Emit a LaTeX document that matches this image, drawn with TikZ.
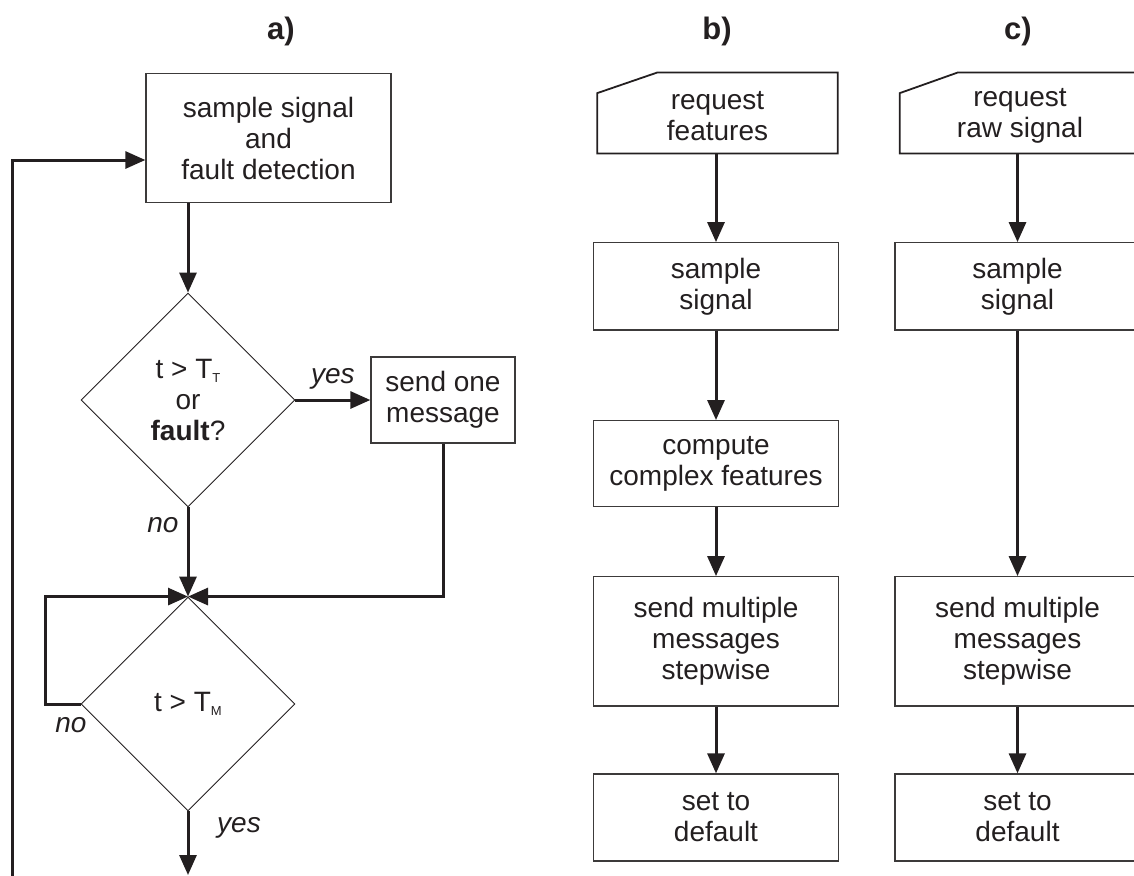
\documentclass[tikz,border=0pt]{standalone}
\usepackage{fontspec}
\setmainfont{Liberation Sans}
\usetikzlibrary{shapes.geometric,arrows.meta,calc}
\definecolor{ink}{RGB}{35,31,32}
\definecolor{frame}{RGB}{60,58,58}
\newcommand{\myfont}{\fontsize{28}{31}\selectfont}
\newcommand{\subT}[1]{\raisebox{-4pt}{\fontsize{13}{13}\selectfont #1}}
\begin{document}
\begin{tikzpicture}[x=1pt,y=-1pt,
  boxnode/.style={draw=frame, line width=1.3pt, minimum width=245pt, inner sep=0pt, align=center, text=ink, font=\myfont},
  manual/.style={inner sep=0pt, align=center, text=ink, font=\myfont},
  dia/.style={diamond, aspect=1, draw=ink, line width=0.9pt, minimum width=214pt, minimum height=214pt, inner sep=0pt, align=center, text=ink, font=\myfont},
  arr/.style={draw=ink, line width=3pt, -{Triangle[length=20pt,width=17pt]}},
  lbl/.style={font=\myfont\itshape, text=ink, inner sep=0pt},
  ttl/.style={font=\fontsize{31}{33}\selectfont\bfseries, text=ink, inner sep=0pt}]
\useasboundingbox (0,0) rectangle (1134,875);
\clip (0,0) rectangle (1134,875);

% titles
\node[ttl] (ta) at (281,31) {a)};
\node[ttl] (tb) at (717,31) {b)};
\node[ttl] (tc) at (1018,31) {c)};

% ---------- a) ----------
\node[boxnode, minimum height=129pt] (box1) at (268.5,138) {sample signal\\and\\fault detection};
\node[dia] (d1) at (188,400) {t > T\subT{T}\\or\\\textbf{fault}?};
\node[boxnode, minimum width=144pt, minimum height=86pt] (s1) at (443,400) {send one\\message};
\node[dia] (d2) at (188,704) {t > T\subT{M}};
\coordinate (lstart) at (12,876);
\coordinate (aend) at (188,875);

\draw[arr] (lstart) |- ([yshift=-22pt]box1.west);
\draw[arr] (box1.south -| d1.north) -- (d1.north);
\draw[arr] (d1.east) -- node[lbl, above=9pt] {yes} (s1.west);
\draw[arr] (d1.south) -- (d2.north);
\node[lbl] (no1) at (163,525) {no};
\draw[arr] (s1.south) |- (d2.north);
\draw[arr] (d2.west) -- ++(-35,0) |- (d2.north);
\node[lbl] (no2) at (71,725) {no};
\draw[arr] (d2.south) -- (aend);
\node[lbl] (yes2) at (239,828) {yes};

% ---------- b) ----------
\node[manual, minimum width=240pt, minimum height=80.6pt] (reqb) at (717.5,116) {request\\features};
\draw[draw=ink, line width=1.8pt] ([yshift=3pt]reqb.south west) -- ([yshift=-17.6pt]reqb.north west) -- ([xshift=60pt,yshift=3pt]reqb.north west) -- ([yshift=3pt]reqb.north east) -- ([yshift=3pt]reqb.south east) -- cycle;
\node[boxnode, minimum height=87.3pt] (sb) at (716,286.4) {sample\\signal};
\node[boxnode, minimum height=86pt] (cb) at (716,463.7) {compute\\complex features};
\node[boxnode, minimum height=129.3pt] (mb) at (716,641.4) {send multiple\\messages\\stepwise};
\node[boxnode, minimum height=87pt] (db) at (716,817.5) {set to\\default};
\draw[arr] ([yshift=3pt]reqb.south -| sb.north) -- (sb.north);
\draw[arr] (sb.south) -- (cb.north);
\draw[arr] (cb.south) -- (mb.north);
\draw[arr] (mb.south) -- (db.north);

% ---------- c) ----------
\node[manual, minimum width=240pt, minimum height=80.6pt] (reqc) at (1020,116) {request\\raw signal};
\draw[draw=ink, line width=1.8pt] ([yshift=3pt]reqc.south west) -- ([yshift=-17.6pt]reqc.north west) -- ([xshift=58pt,yshift=3pt]reqc.north west) -- ([yshift=3pt]reqc.north east) -- ([yshift=3pt]reqc.south east) -- cycle;
\node[boxnode, minimum height=87.3pt] (sc) at (1017.5,286.4) {sample\\signal};
\node[boxnode, minimum height=129.3pt] (mc) at (1017.5,641.4) {send multiple\\messages\\stepwise};
\node[boxnode, minimum height=87pt] (dc) at (1017.5,817.5) {set to\\default};
\draw[arr] ([yshift=3pt]reqc.south -| sc.north) -- (sc.north);
\draw[arr] (sc.south) -- (mc.north);
\draw[arr] (mc.south) -- (dc.north);
\end{tikzpicture}
\end{document}
